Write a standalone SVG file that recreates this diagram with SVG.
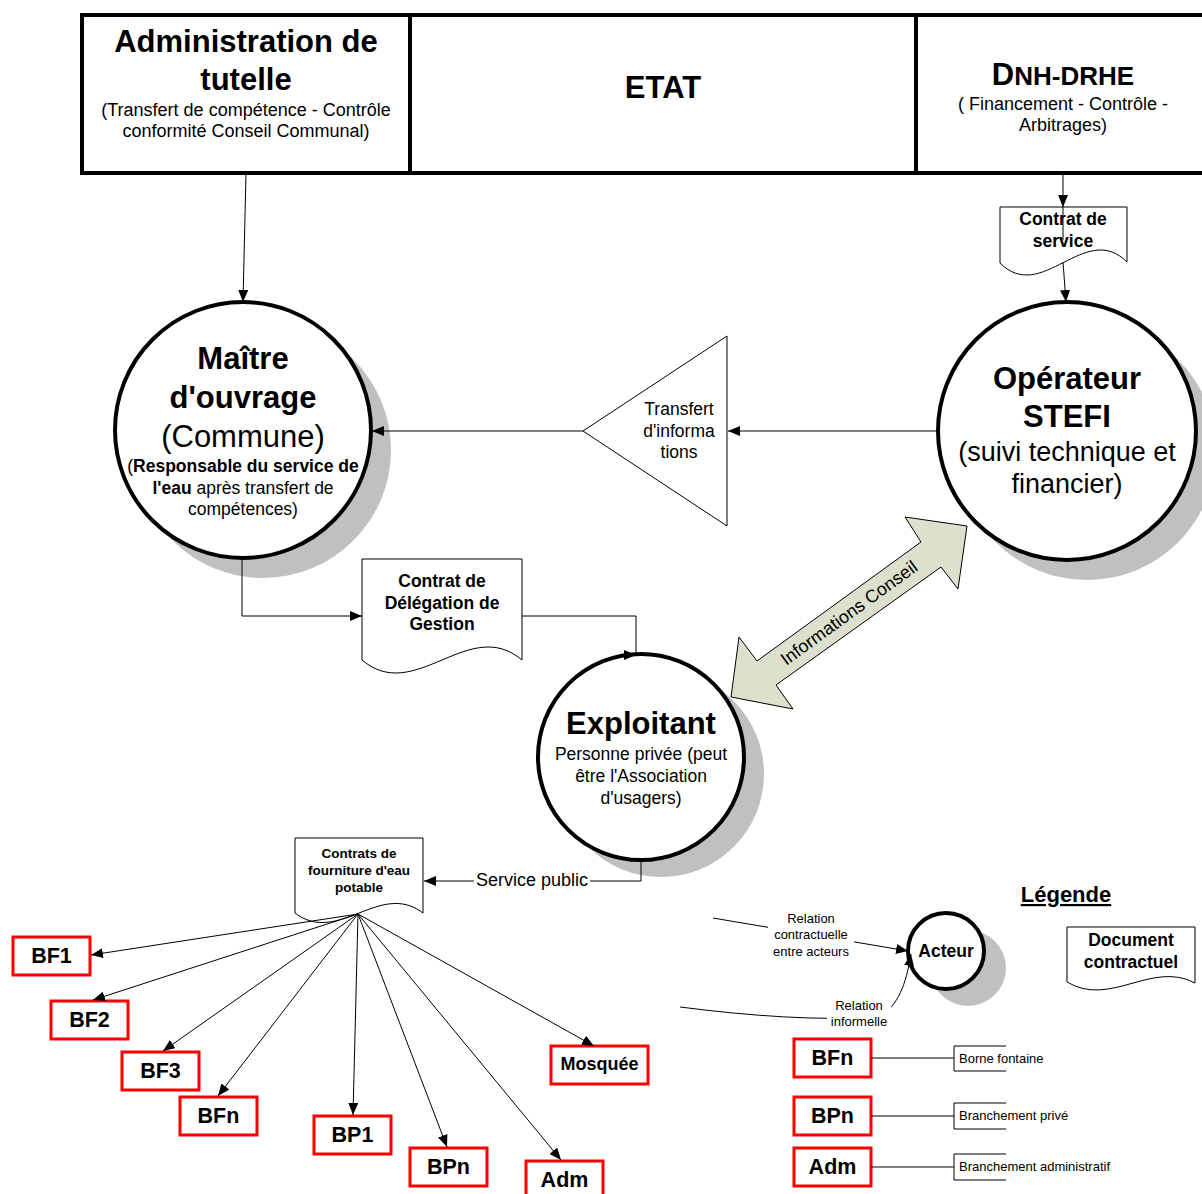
<svg xmlns="http://www.w3.org/2000/svg" width="1202" height="1194" viewBox="0 0 1202 1194">
<defs>
<marker id="ah" viewBox="0 0 12 10" refX="12" refY="5" markerWidth="12" markerHeight="10" markerUnits="userSpaceOnUse" orient="auto"><path d="M0,0 L12,5 L0,10 z" fill="#000"/></marker>
<style>
text{font-family:"Liberation Sans",Arial,sans-serif;fill:#000}
.c{text-anchor:middle}
.b{font-weight:bold}
.actor{fill:#fff;stroke:#000;stroke-width:4}
.shadow{fill:#c0c0c0}
.doc{fill:#fff;stroke:#000;stroke-width:1}
.red{fill:#fff;stroke:#ff0000;stroke-width:3}
.ln{fill:none;stroke:#000;stroke-width:1}
.bar{fill:#fff;stroke:#000;stroke-width:4}
</style>
</defs>
<rect width="1202" height="1194" fill="#fff"/>

<g id="topbar">
<rect class="bar" x="82" y="15" width="1130" height="158"/>
<line x1="410" y1="15" x2="410" y2="173" stroke="#000" stroke-width="4"/>
<line x1="916" y1="15" x2="916" y2="173" stroke="#000" stroke-width="4"/>
</g>
<g id="admin-tutelle">
<text class="c b" x="246" y="52" font-size="31">Administration de</text>
<text class="c b" x="246" y="90" font-size="31">tutelle</text>
<text class="c" x="246" y="116" font-size="18">(Transfert de compétence - Contrôle</text>
<text class="c" x="246" y="137" font-size="18">conformité Conseil Communal)</text>
</g>
<g id="etat">
<text class="c b" x="663" y="98" font-size="31">ETAT</text>
</g>
<g id="dnh-drhe">
<text class="c b" x="1063" y="85"><tspan font-size="31">D</tspan><tspan font-size="26">NH-DRHE</tspan></text>
<text class="c" x="1063" y="110" font-size="18">( Financement - Contrôle -</text>
<text class="c" x="1063" y="131" font-size="18">Arbitrages)</text>
</g>

<g id="contrat-service">
<path class="doc" d="M1000,207 H1127 V262 C1085,220 1042,305 1000,263 Z"/>
<text class="c b" x="1063" y="225" font-size="17.5">Contrat de</text>
<text class="c b" x="1063" y="247" font-size="17.5">service</text>
</g>

<g id="maitre-ouvrage">
<circle class="shadow" cx="263" cy="450" r="128"/>
<circle class="actor" cx="243" cy="430" r="128"/>
<text class="c b" x="243" y="369" font-size="31">Maître</text>
<text class="c b" x="243" y="408" font-size="31">d'ouvrage</text>
<text class="c" x="243" y="447" font-size="31">(Commune)</text>
<text class="c" x="243" y="472" font-size="17.5">(<tspan font-weight="bold">Responsable du service de</tspan></text>
<text class="c" x="243" y="494" font-size="17.5"><tspan font-weight="bold">l'eau</tspan> après transfert de</text>
<text class="c" x="243" y="515" font-size="17.5">compétences)</text>
</g>

<g id="operateur-stefi">
<circle class="shadow" cx="1087" cy="451" r="129"/>
<circle class="actor" cx="1067" cy="431" r="129"/>
<text class="c b" x="1067" y="389" font-size="31">Opérateur</text>
<text class="c b" x="1067" y="427" font-size="31">STEFI</text>
<text class="c" x="1067" y="461" font-size="27">(suivi technique et</text>
<text class="c" x="1067" y="493" font-size="27">financier)</text>
</g>

<g id="transfert-informations">
<polygon points="583,431 727,336 727,526" fill="#fff" stroke="#000" stroke-width="1"/>
<text class="c" x="679" y="415" font-size="17.5">Transfert</text>
<text class="c" x="679" y="437" font-size="17.5">d'informa</text>
<text class="c" x="679" y="458" font-size="17.5">tions</text>
</g>

<g id="contrat-delegation">
<path class="doc" d="M362,559 H522 V660 C469,615 415,705 362,660 Z"/>
<text class="c b" x="442" y="587" font-size="17.5">Contrat de</text>
<text class="c b" x="442" y="609" font-size="17.5">Délégation de</text>
<text class="c b" x="442" y="630" font-size="17.5">Gestion</text>
</g>

<g id="exploitant">
<circle class="shadow" cx="661" cy="774" r="103"/>
<circle class="actor" cx="641" cy="757" r="103"/>
<text class="c b" x="641" y="734" font-size="31">Exploitant</text>
<text class="c" x="641" y="760" font-size="17.5">Personne privée (peut</text>
<text class="c" x="641" y="782" font-size="17.5">être l'Association</text>
<text class="c" x="641" y="804" font-size="17.5">d'usagers)</text>
</g>

<g id="contrats-fourniture">
<path class="doc" d="M295,838 H423 V913 C380,880 338,946 295,913 Z"/>
<text class="c b" x="359" y="858" font-size="13.5">Contrats de</text>
<text class="c b" x="359" y="875" font-size="13.5">fourniture d'eau</text>
<text class="c b" x="359" y="892" font-size="13.5">potable</text>
</g>

<g id="bf1"><rect class="red" x="13" y="937" width="77" height="38"/><text class="c b" x="51.5" y="963" font-size="21.5">BF1</text></g>
<g id="bf2"><rect class="red" x="51" y="1001" width="77" height="38"/><text class="c b" x="89.5" y="1027" font-size="21.5">BF2</text></g>
<g id="bf3"><rect class="red" x="122" y="1052" width="77" height="38"/><text class="c b" x="160.5" y="1078" font-size="21.5">BF3</text></g>
<g id="bfn"><rect class="red" x="180" y="1097" width="77" height="38"/><text class="c b" x="218.5" y="1123" font-size="21.5">BFn</text></g>
<g id="bp1"><rect class="red" x="314" y="1116" width="77" height="38"/><text class="c b" x="352.5" y="1142" font-size="21.5">BP1</text></g>
<g id="bpn"><rect class="red" x="410" y="1148" width="77" height="38"/><text class="c b" x="448.5" y="1174" font-size="21.5">BPn</text></g>
<g id="adm"><rect class="red" x="526" y="1161" width="77" height="38"/><text class="c b" x="564.5" y="1187" font-size="21.5">Adm</text></g>
<g id="mosquee"><rect class="red" x="551" y="1046" width="97" height="38"/><text class="c b" x="599.5" y="1070" font-size="18">Mosquée</text></g>

<g id="legende">
<text class="c b" x="1066" y="902" font-size="22" text-decoration="underline">Légende</text>
<g id="legend-acteur">
<circle class="shadow" cx="968" cy="968" r="38"/>
<circle class="actor" cx="946" cy="951" r="38"/>
<text class="c b" x="946" y="957" font-size="17.5">Acteur</text>
</g>
<g id="legend-document">
<path class="doc" d="M1067,927 H1195 V983 C1152,960 1110,1008 1067,982 Z"/>
<text class="c b" x="1131" y="946" font-size="17.5">Document</text>
<text class="c b" x="1131" y="968" font-size="17.5">contractuel</text>
</g>
<g id="legend-bfn"><rect class="red" x="794" y="1039" width="77" height="38"/><text class="c b" x="832.5" y="1065" font-size="21.5">BFn</text>
<path class="ln" d="M871,1058 H954 M1006,1046 H954 V1071 H1006"/><text x="959" y="1063" font-size="13">Borne fontaine</text></g>
<g id="legend-bpn"><rect class="red" x="794" y="1097" width="77" height="38"/><text class="c b" x="832.5" y="1123" font-size="21.5">BPn</text>
<path class="ln" d="M871,1116 H954 M1006,1103 H954 V1129 H1006"/><text x="959" y="1120" font-size="13">Branchement privé</text></g>
<g id="legend-adm"><rect class="red" x="794" y="1148" width="77" height="38"/><text class="c b" x="832.5" y="1174" font-size="21.5">Adm</text>
<path class="ln" d="M871,1167 H954 M1006,1154 H954 V1180 H1006"/><text x="959" y="1171" font-size="13">Branchement administratif</text></g>
</g>

<g id="connectors" fill="none" stroke="#000" stroke-width="1">
<line x1="246" y1="173" x2="243" y2="302" marker-end="url(#ah)"/>
<line x1="1063" y1="173" x2="1063" y2="207" marker-end="url(#ah)"/>
<line x1="1063" y1="207" x2="1063" y2="240"/>
<line x1="1063" y1="262" x2="1066" y2="302" marker-end="url(#ah)"/>
<line x1="938" y1="431" x2="728" y2="431" marker-end="url(#ah)"/>
<line x1="583" y1="431" x2="372" y2="431" marker-end="url(#ah)"/>
<path d="M242,558 V616 H362" marker-end="url(#ah)"/>
<path d="M522,616 H636 V655"/>
<polygon points="624,650 636,655 624,660" fill="#000" stroke="none"/>
<path d="M641,860 V881 H424" marker-end="url(#ah)"/>
<line x1="358" y1="914" x2="91" y2="955" marker-end="url(#ah)"/>
<line x1="358" y1="914" x2="93" y2="1000" marker-end="url(#ah)"/>
<line x1="358" y1="914" x2="163" y2="1051" marker-end="url(#ah)"/>
<line x1="358" y1="914" x2="218" y2="1096" marker-end="url(#ah)"/>
<line x1="358" y1="914" x2="353" y2="1115" marker-end="url(#ah)"/>
<line x1="358" y1="914" x2="447" y2="1147" marker-end="url(#ah)"/>
<line x1="358" y1="914" x2="561" y2="1160" marker-end="url(#ah)"/>
<line x1="358" y1="914" x2="594" y2="1046" marker-end="url(#ah)"/>
<line x1="713" y1="918" x2="908" y2="951" marker-end="url(#ah)"/>
<path d="M680,1007 C750,1016 820,1021 880,1017 C898,1005 906,985 911,954" marker-end="url(#ah)"/>
<polygon points="967,526 958,589 941,567 776,685 793,709 731,697 739,637 757,661 921,542 905,517" fill="#dde0cc" stroke="#000" stroke-width="1"/>
</g>

<g id="connector-labels">
<rect x="474" y="869" width="116" height="22" fill="#fff"/>
<text class="c" x="532" y="886" font-size="18">Service public</text>
<rect x="768" y="908" width="86" height="50" fill="#fff"/>
<text class="c" x="811" y="923" font-size="13">Relation</text>
<text class="c" x="811" y="939" font-size="13">contractuelle</text>
<text class="c" x="811" y="956" font-size="13">entre acteurs</text>
<rect x="827" y="995" width="64" height="34" fill="#fff"/>
<text class="c" x="859" y="1010" font-size="13">Relation</text>
<text class="c" x="859" y="1026" font-size="13">informelle</text>
<text class="c" transform="translate(849,613) rotate(-36)" x="0" y="6" font-size="18">Informations Conseil</text>
</g>
</svg>
